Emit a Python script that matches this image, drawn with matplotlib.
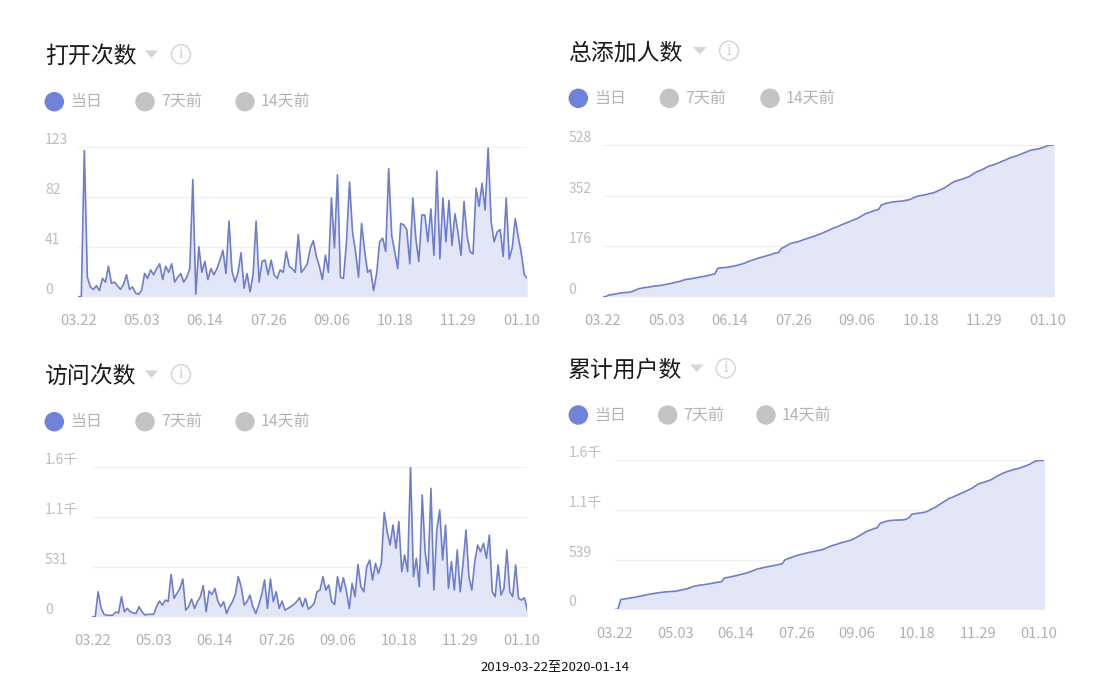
import matplotlib
matplotlib.use("Agg")
import matplotlib.pyplot as plt
import matplotlib.transforms as mtransforms
from matplotlib.patches import Ellipse, Polygon
import pandas as pd

plt.rcParams['font.family'] = ['Noto Sans CJK SC', 'DejaVu Sans']

# 数据：2019-03-22 起，每两天一个点
start_date = "2019-03-22"
tick_dates = ["2019-03-22", "2019-05-03", "2019-06-14", "2019-07-26",
              "2019-09-06", "2019-10-18", "2019-11-29", "2020-01-10"]
tick_labels = ["03.22", "05.03", "06.14", "07.26", "09.06", "10.18", "11.29", "01.10"]
legend_labels = ["当日", "7天前", "14天前"]
footer = "2019-03-22至2020-01-14"

# 打开次数
open_counts = [
    0, 0, 120, 16, 8, 6, 9, 5, 15, 12,
    25, 11, 12, 9, 6, 10, 18, 6, 8, 3,
    2, 5, 19, 15, 22, 18, 23, 27, 14, 25,
    20, 27, 12, 16, 19, 12, 16, 23, 96, 2,
    41, 20, 29, 14, 23, 18, 23, 30, 38, 19,
    62, 21, 12, 20, 36, 7, 19, 4, 18, 62,
    12, 29, 30, 18, 30, 18, 15, 22, 20, 37,
    25, 23, 20, 51, 20, 23, 27, 40, 46, 33,
    25, 14, 34, 20, 81, 40, 100, 16, 15, 45,
    94, 53, 37, 16, 60, 38, 20, 22, 5, 19,
    45, 48, 37, 105, 50, 37, 23, 60, 59, 55,
    27, 81, 48, 29, 67, 67, 45, 72, 34, 103,
    31, 81, 45, 79, 42, 68, 53, 34, 78, 50,
    37, 35, 89, 74, 93, 71, 122, 62, 45, 53,
    55, 33, 81, 31, 40, 64, 49, 36, 18, 15,
]
open_yticks = [0, 41, 82, 123]
open_ylabels = ["0", "41", "82", "123"]

# 访问次数
visits = [
    0, 0, 265, 95, 25, 15, 15, 15, 50, 40,
    212, 53, 88, 53, 40, 35, 106, 53, 18, 25,
    25, 25, 106, 166, 124, 177, 160, 450, 195, 248,
    300, 400, 70, 106, 188, 88, 160, 212, 330, 53,
    273, 237, 300, 166, 106, 160, 35, 106, 160, 237,
    425, 319, 124, 160, 230, 106, 35, 124, 230, 390,
    88, 400, 160, 265, 88, 166, 70, 88, 106, 131,
    160, 202, 106, 195, 80, 106, 142, 265, 283, 425,
    283, 336, 160, 131, 425, 265, 414, 283, 88, 354,
    212, 556, 319, 265, 531, 602, 390, 566, 460, 566,
    1108, 903, 761, 974, 726, 1009, 478, 655, 478, 1593,
    425, 620, 319, 1292, 690, 460, 1363, 283, 920, 1133,
    602, 974, 300, 584, 283, 708, 265, 566, 920, 425,
    283, 584, 761, 690, 779, 620, 867, 265, 212, 549,
    230, 300, 708, 265, 212, 549, 195, 177, 202, 70,
]
visit_yticks = [0, 531, 1062, 1593]
visit_ylabels = ["0", "531", "1.1千", "1.6千"]

# 总添加人数
total_adds = [
    0, 0, 6, 7, 9, 11, 13, 14, 15, 16,
    19, 24, 28, 30, 32, 33, 35, 37, 38, 39,
    41, 43, 45, 47, 50, 52, 55, 59, 61, 62,
    64, 66, 68, 70, 72, 74, 77, 79, 99, 100,
    101, 102, 104, 106, 108, 111, 114, 117, 122, 126,
    129, 133, 136, 139, 142, 145, 148, 152, 153, 168,
    173, 179, 185, 188, 190, 193, 197, 201, 204, 208,
    211, 215, 219, 224, 228, 233, 238, 242, 246, 251,
    255, 259, 264, 268, 272, 278, 284, 290, 293, 297,
    301, 303, 319, 323, 326, 328, 330, 331, 332, 333,
    335, 337, 341, 346, 350, 352, 354, 356, 359, 361,
    365, 370, 374, 380, 387, 394, 400, 404, 407, 410,
    414, 418, 425, 432, 437, 441, 446, 452, 456, 459,
    463, 467, 472, 476, 481, 485, 488, 492, 496, 500,
    504, 509, 511, 513, 515, 518, 522, 526, 528, 528,
]
adds_yticks = [0, 176, 352, 528]
adds_ylabels = ["0", "176", "352", "528"]

# 累计用户数
total_users = [
    0, 0, 105, 110, 115, 120, 125, 131, 137, 144,
    151, 158, 164, 169, 173, 178, 183, 187, 190, 192,
    194, 196, 203, 210, 216, 222, 233, 246, 254, 259,
    264, 268, 272, 278, 284, 290, 295, 300, 340, 344,
    350, 357, 364, 372, 380, 388, 396, 408, 420, 432,
    441, 448, 454, 461, 467, 474, 480, 486, 492, 535,
    548, 559, 570, 582, 590, 598, 606, 613, 620, 627,
    633, 640, 646, 660, 673, 686, 695, 705, 716, 725,
    733, 741, 750, 766, 782, 800, 818, 838, 852, 862,
    875, 882, 930, 941, 952, 960, 963, 965, 966, 967,
    968, 976, 990, 1030, 1035, 1040, 1044, 1048, 1055, 1070,
    1088, 1100, 1122, 1142, 1162, 1182, 1202, 1212, 1226, 1240,
    1254, 1268, 1282, 1298, 1312, 1335, 1356, 1366, 1375, 1386,
    1396, 1412, 1430, 1448, 1464, 1478, 1490, 1500, 1510, 1518,
    1526, 1536, 1548, 1558, 1572, 1590, 1604, 1610, 1612, 1614,
]
users_yticks = [0, 539, 1078, 1617]
users_ylabels = ["0", "539", "1.1千", "1.6千"]

W, H = 1100, 694
LINE = "#6e7ecb"
FILL = "#e2e6f7"
BLUE_DOT = "#6f84d8"
GREY_DOT = "#c4c4c4"

fig = plt.figure(figsize=(11, 6.94), dpi=100)


def fx(x):
    return x / W


def fy(y):
    return 1 - y / H


# 每个面板的布局（像素）
panels = [
    dict(title="打开次数", vals=open_counts, yt=open_yticks, yl=open_ylabels,
         tx=45, ty=56.5, tri=(145, 158, 50.5), info=(181, 54.3),
         leg_y=101.7, leg_x=[54.3, 145, 245],
         box=(78.3, 146.7, 527.3, 296.7), ylab_x=45),
    dict(title="访问次数", vals=visits, yt=visit_yticks, yl=visit_ylabels,
         tx=45, ty=376.5, tri=(145, 158, 370.5), info=(181, 374.3),
         leg_y=421.7, leg_x=[54.3, 145, 245],
         box=(92.3, 466.7, 527.3, 616.7), ylab_x=45),
    dict(title="总添加人数", vals=total_adds, yt=adds_yticks, yl=adds_ylabels,
         tx=568.3, ty=53.3, tri=(693, 706.5, 47), info=(729, 50.7),
         leg_y=98.3, leg_x=[578.3, 669.3, 770],
         box=(602.7, 145, 1054, 296.7), ylab_x=568.3),
    dict(title="累计用户数", vals=total_users, yt=users_yticks, yl=users_ylabels,
         tx=568.3, ty=370, tri=(690, 703.5, 364.5), info=(725.7, 368.3),
         leg_y=415, leg_x=[578.3, 667.7, 766],
         box=(615, 460, 1044.3, 609.3), ylab_x=568.3),
]

tick_pos = pd.to_datetime(tick_dates)

for p in panels:
    vals = p["vals"]
    dates = pd.date_range(start_date, periods=len(vals), freq="2D")
    left, top, right, bottom = p["box"]
    ax = fig.add_axes([fx(left), fy(bottom), (right - left) / W, (bottom - top) / H])
    ax.fill_between(dates, vals, 0, color=FILL, lw=0)
    ax.plot(dates, vals, color=LINE, lw=1.2)
    ax.set_xlim(dates[0], dates[-1])
    ax.set_ylim(0, p["yt"][-1])
    for s in ax.spines.values():
        s.set_visible(False)
    ax.set_yticks(p["yt"])
    ax.yaxis.grid(True, color="#f0f0f0", lw=0.9)
    ax.set_axisbelow(True)
    ax.tick_params(axis="y", length=0, labelleft=False)
    ax.set_xticks(tick_pos)
    ax.set_xticklabels(tick_labels)
    ax.tick_params(axis="x", length=0, pad=12.5, labelsize=10.5, labelcolor="#b0b0b0")
    ax.set_facecolor("none")

    # y 轴标签：左对齐，位于网格线上方
    trans = mtransforms.blended_transform_factory(fig.transFigure, ax.transData)
    for v, lab in zip(p["yt"], p["yl"]):
        ax.text(fx(p["ylab_x"]), v, lab, transform=trans, ha="left", va="bottom",
                fontsize=10, color="#bdbdbd")

    # 标题
    fig.text(fx(p["tx"]), fy(p["ty"]), p["title"], fontsize=16.5, color="#1a1a1a",
             ha="left", va="center")
    # 下拉三角
    x0, x1, ty0 = p["tri"]
    fig.patches.append(Polygon([(fx(x0), fy(ty0)), (fx(x1), fy(ty0)),
                                (fx((x0 + x1) / 2), fy(ty0 + 7.5))],
                               closed=True, transform=fig.transFigure,
                               color="#d6d6d6", lw=0))
    # 信息图标
    ix, iy = p["info"]
    fig.patches.append(Ellipse((fx(ix), fy(iy)), 19 / W, 19 / H, transform=fig.transFigure,
                               fill=False, edgecolor="#d6d6d6", lw=1.1))
    fig.text(fx(ix), fy(iy), "i", fontsize=10, color="#cfcfcf", ha="center", va="center",
             family="DejaVu Serif")

    # 图例
    for i, (lx, lab) in enumerate(zip(p["leg_x"], legend_labels)):
        col = BLUE_DOT if i == 0 else GREY_DOT
        fig.patches.append(Ellipse((fx(lx), fy(p["leg_y"])), 19.5 / W, 19.5 / H,
                                   transform=fig.transFigure, color=col, lw=0))
        fig.text(fx(lx + 16), fy(p["leg_y"]), lab, fontsize=11.5, color="#b3b3b3",
                 ha="left", va="center")

fig.text(fx(555), fy(667), footer, fontsize=9.5, color="#111111", ha="center", va="center")

plt.savefig("out.png", dpi=100)
